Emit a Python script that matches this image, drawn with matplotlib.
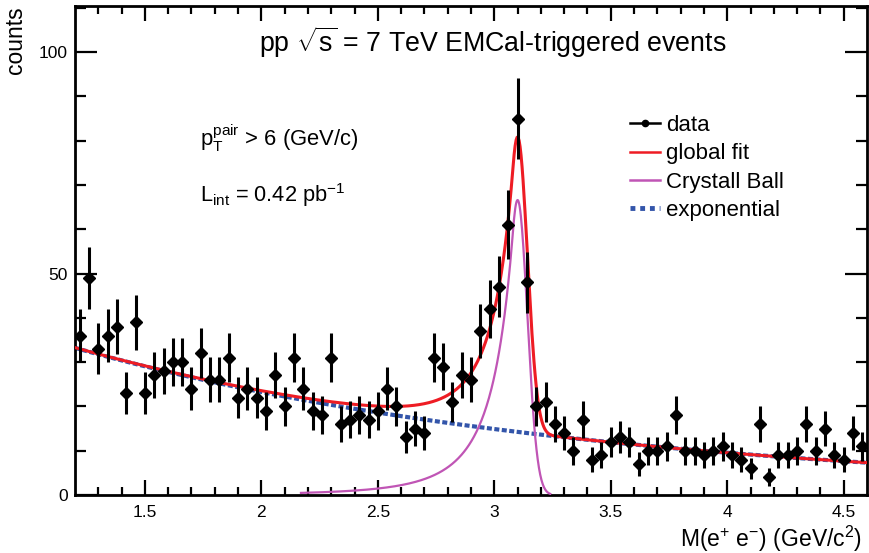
import numpy as np
import matplotlib
matplotlib.use("Agg")
from matplotlib import pyplot as plt
from matplotlib.lines import Line2D

plt.rcParams['font.family'] = ['Liberation Sans', 'DejaVu Sans']
plt.rcParams['mathtext.fontset'] = 'custom'
plt.rcParams['mathtext.rm'] = 'Liberation Sans'
plt.rcParams['mathtext.it'] = 'Liberation Sans:italic'

# invariant mass bins (GeV/c^2), 0.04 wide
bin_lo = 1.2
bin_width = 0.04
counts = [36, 49, 33, 36, 38, 23, 39, 23, 27, 28,
          30, 30, 24, 32, 26, 26, 31, 22, 24, 22,
          19, 27, 20, 31, 24, 19, 18, 31, 16, 17,
          18, 17, 19, 24, 20, 13, 15, 14, 31, 29,
          21, 27, 26, 37, 42, 47, 61, 85, 48, 20,
          21, 16, 14, 10, 17, 8, 9, 12, 13, 12,
          7, 10, 10, 11, 18, 10, 10, 9, 10, 11,
          9, 8, 6, 16, 4, 9, 9, 10, 16, 10,
          15, 9, 8, 14, 11]

# fit parameters
exp_norm = 56.7
exp_slope = 0.4456
cb_norm = 66.6
cb_mean = 3.100
cb_sigma = 0.042
cb_alpha = 0.47
cb_n = 3.6
cb_range = [2.17, 3.24]


def expo(x):
    return exp_norm * np.exp(-exp_slope * x)


def crystal_ball(x):
    t = (x - cb_mean) / cb_sigma
    a = abs(cb_alpha)
    A = (cb_n / a) ** cb_n * np.exp(-a * a / 2)
    B = cb_n / a - a
    out = np.where(t > -a, np.exp(-t * t / 2), A * (B - np.minimum(t, -a)) ** (-cb_n))
    return cb_norm * out


centers = bin_lo + bin_width * (np.arange(len(counts)) + 0.5)
counts = np.array(counts)
errors = np.sqrt(counts)

fig = plt.figure(figsize=(8.69, 5.53), dpi=100)
ax = fig.add_axes([75 / 869, 1 - 495 / 553, 792 / 869, 489 / 553])

xs = np.linspace(1.2, 4.6, 800)
xcb = np.linspace(cb_range[0], cb_range[1], 400)

ax.plot(xs, expo(xs), color='#3355aa', lw=3, ls=(0, (1.2, 0.6)), zorder=2)
ax.plot(xcb, crystal_ball(xcb), color='#c055b5', lw=1.6, zorder=3)
ax.plot(xs, expo(xs) + crystal_ball(xs), color='#ee1c24', lw=2.2, zorder=4)
ax.errorbar(centers, counts, yerr=errors, fmt='D', color='black', ms=6,
            elinewidth=2.2, capsize=0, zorder=5)

ax.set_xlim(1.2, 4.6)
ax.set_ylim(0, 110.4)
ax.set_xticks([1.5, 2, 2.5, 3, 3.5, 4, 4.5])
ax.set_xticklabels(['1.5', '2', '2.5', '3', '3.5', '4', '4.5'])
ax.set_xticks(np.arange(1.3, 4.6, 0.1), minor=True)
ax.set_yticks([0, 50, 100])
ax.set_yticks(np.arange(0, 111, 10), minor=True)

ax.tick_params(axis='both', which='both', direction='in', top=True, right=True,
               labelsize=12.5, width=1.6)
ax.tick_params(axis='x', which='major', length=11, pad=7)
ax.tick_params(axis='x', which='minor', length=6)
ax.tick_params(axis='y', which='major', length=16, pad=5)
ax.tick_params(axis='y', which='minor', length=8)
for s in ax.spines.values():
    s.set_linewidth(2)

ax.set_xlabel(r'M(e$^{+}$ e$^{-}$) (GeV/c$^{2}$)', fontsize=16.5, ha='right')
ax.xaxis.set_label_coords(0.994, -0.058, transform=ax.transAxes)
ax.xaxis.label.set_va('top')
ax.set_ylabel('counts', fontsize=16.5, loc='top', labelpad=9)

ax.text(0.527, 0.926, r'pp $\sqrt{\mathrm{s}}$ = 7 TeV EMCal-triggered events',
        transform=ax.transAxes, ha='center', va='center', fontsize=19.3)
ax.text(0.158, 0.73, r'p$_{\mathrm{T}}^{\mathrm{pair}}$ > 6 (GeV/c)',
        transform=ax.transAxes, ha='left', va='center', fontsize=15.8)
ax.text(0.158, 0.613, r'L$_{\mathrm{int}}$ = 0.42 pb$^{\mathrm{-1}}$',
        transform=ax.transAxes, ha='left', va='center', fontsize=15.7)

handles = [
    Line2D([], [], color='black', marker='o', ms=4.5, lw=1.8),
    Line2D([], [], color='#ee1c24', lw=1.8),
    Line2D([], [], color='#c055b5', lw=1.8),
    Line2D([], [], color='#3355aa', lw=3.5, ls=(0, (1, 1))),
]
labels = ['data', 'global fit', 'Crystall Ball', 'exponential']
ax.legend(handles, labels, loc='upper left', bbox_to_anchor=(0.701, 0.777),
          frameon=False, fontsize=16, handlelength=1.35, handletextpad=0.25,
          labelspacing=0.33, borderaxespad=0, borderpad=0)

fig.savefig('out.png', dpi=100)
